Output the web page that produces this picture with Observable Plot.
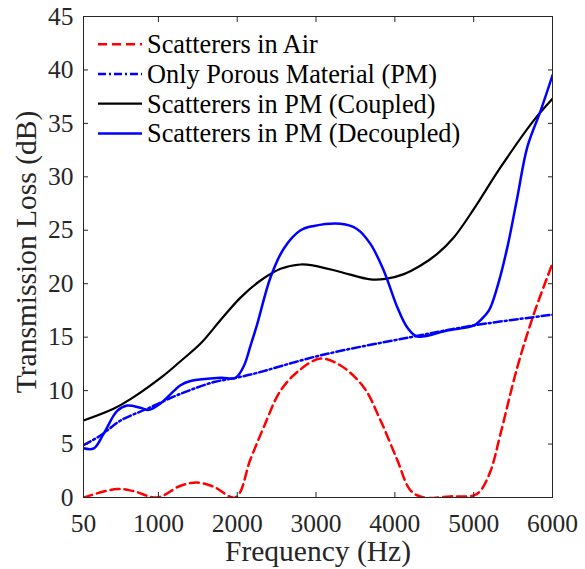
<!DOCTYPE html>
<html>
<head>
<meta charset="utf-8">
<script src="https://cdn.jsdelivr.net/npm/d3@7"></script>
<script src="https://cdn.jsdelivr.net/npm/@observablehq/plot@0.6"></script>
<style>
  html, body { margin: 0; padding: 0; background: #fff; }
  #chart { width: 585px; height: 569px; }
</style>
</head>
<body>
<div id="chart"></div>
<script>
// ---- Data ----
const xTicks = [50, 1000, 2000, 3000, 4000, 5000, 6000];
const yTicks = [0, 5, 10, 15, 20, 25, 30, 35, 40, 45];
const seriesNames = [
  "Scatterers in Air",
  "Only Porous Material (PM)",
  "Scatterers in PM (Coupled)",
  "Scatterers in PM (Decoupled)"
];

const freqAir = [50, 477, 684, 985, 1281, 1493, 1704, 1979, 2169, 2338, 2550, 2804, 3058, 3311, 3607, 3819, 4031, 4200, 4369, 4700, 5003, 5088, 5215, 5342, 5554, 5765, 6000];
const tlAir   = [0.0, 0.8, 0.6, 0.0, 1.1, 1.4, 1.0, 0.0, 3.6, 6.6, 10.0, 12.0, 13.0, 12.35, 10.3, 7.2, 3.5, 0.65, 0.0, 0.1, 0.2, 0.65, 2.5, 6.0, 12.2, 17.2, 21.9];

const freqPM = [50, 266, 520, 858, 1281, 1704, 1915, 2169, 3058, 4200, 5003, 6000];
const tlPM   = [4.9, 5.8, 7.2, 8.3, 9.7, 10.8, 11.1, 11.5, 13.3, 15.0, 16.1, 17.1];

const freqCoupled = [50, 431, 646, 1065, 1281, 1535, 1789, 2042, 2296, 2550, 2804, 2969, 3311, 3692, 3882, 4115, 4327, 4538, 4750, 5003, 5342, 5765, 6000];
const tlCoupled   = [7.2, 8.3, 9.2, 11.4, 12.75, 14.4, 16.6, 18.7, 20.3, 21.4, 21.8, 21.7, 21.1, 20.4, 20.45, 20.9, 21.7, 22.8, 24.35, 27.0, 30.9, 35.3, 37.3];

const freqDecoupled = [50, 181, 308, 477, 604, 773, 879, 1027, 1281, 1408, 1789, 1979, 2084, 2169, 2253, 2423, 2592, 2804, 2973, 3311, 3523, 3692, 3861, 4031, 4158, 4285, 4650, 5003, 5088, 5194, 5300, 5427, 5554, 5681, 5850, 6000];
const tlDecoupled   = [4.6, 4.6, 6.0, 8.1, 8.6, 8.4, 8.2, 8.8, 10.5, 10.9, 11.2, 11.2, 12.3, 14.2, 16.2, 20.6, 23.3, 25.0, 25.4, 25.6, 25.1, 23.7, 21.2, 17.8, 15.9, 15.06, 15.6, 16.1, 16.6, 17.5, 19.7, 23.4, 28.1, 32.8, 36.2, 39.5];

const xLabel = "Frequency (Hz)";
const yLabel = "Transmission Loss (dB)";

// ---- Build tables ----
const toRows = (fs, vs) => fs.map((f, i) => ({f, tl: vs[i]}));
const air = toRows(freqAir, tlAir);
const pm = toRows(freqPM, tlPM);
const coupled = toRows(freqCoupled, tlCoupled);
const decoupled = toRows(freqDecoupled, tlDecoupled);

const styles = [
  {stroke: "#ff0000", strokeWidth: 2.5, dash: "9,5"},
  {stroke: "#0000ff", strokeWidth: 2.5, dash: "8,3,2,3"},
  {stroke: "#000000", strokeWidth: 2.2, dash: null},
  {stroke: "#0000ff", strokeWidth: 2.5, dash: null}
];
const tables = [air, pm, coupled, decoupled];

const axisColor = "#262626";
const font = "Liberation Serif, Times New Roman, serif";

const lineMarks = tables.map((t, i) => Plot.line(t, {
  x: "f", y: "tl",
  stroke: styles[i].stroke,
  strokeWidth: styles[i].strokeWidth,
  strokeDasharray: styles[i].dash,
  curve: "catmull-rom",
  clip: true
}));

const chart = Plot.plot({
  width: 585,
  height: 569,
  marginLeft: 83,
  marginRight: 33,
  marginTop: 16,
  marginBottom: 72,
  style: {fontFamily: font, background: "#fff", color: axisColor, overflow: "visible"},
  x: {domain: [50, 6000]},
  y: {domain: [0, 45]},
  marks: [
    ...lineMarks,
    Plot.frame({stroke: axisColor, strokeWidth: 1}),
    Plot.axisX(xTicks, {anchor: "bottom", tickSize: -5, tickPadding: 21, fontSize: 25.5, label: null, tickFormat: d => String(d), stroke: axisColor, fill: axisColor}),
    Plot.axisX(xTicks, {anchor: "top", tickSize: -5, label: null, tickFormat: () => "", stroke: axisColor}),
    Plot.axisY(yTicks, {anchor: "left", tickSize: -5, tickPadding: 15, fontSize: 25.5, label: null, tickFormat: d => String(d), stroke: axisColor, fill: axisColor}),
    Plot.axisY(yTicks, {anchor: "right", tickSize: -5, label: null, tickFormat: () => "", stroke: axisColor}),
    Plot.text([xLabel], {frameAnchor: "bottom", dy: 54, lineAnchor: "middle", fontSize: 29.5, fill: axisColor}),
    Plot.text([yLabel], {frameAnchor: "left", dx: -57, dy: -5, rotate: -90, textAnchor: "middle", lineAnchor: "middle", fontSize: 29.5, fill: axisColor})
  ]
});

document.getElementById("chart").appendChild(chart);

// ---- Legend (inside the axes, top-left) ----
const svg = d3.select(chart);
const lg = svg.append("g").attr("class", "legend").attr("text-anchor", "start");
seriesNames.forEach((name, i) => {
  const y = 44.3 + 29.7 * i;
  lg.append("line")
    .attr("x1", 98).attr("x2", 142).attr("y1", y).attr("y2", y)
    .attr("stroke", styles[i].stroke)
    .attr("stroke-width", styles[i].strokeWidth)
    .attr("stroke-dasharray", styles[i].dash);
  lg.append("text")
    .attr("x", 147).attr("y", y + 9)
    .attr("text-anchor", "start")
    .attr("font-family", font)
    .attr("font-size", 26.3)
    .attr("fill", "#000")
    .text(name);
});
</script>
</body>
</html>
